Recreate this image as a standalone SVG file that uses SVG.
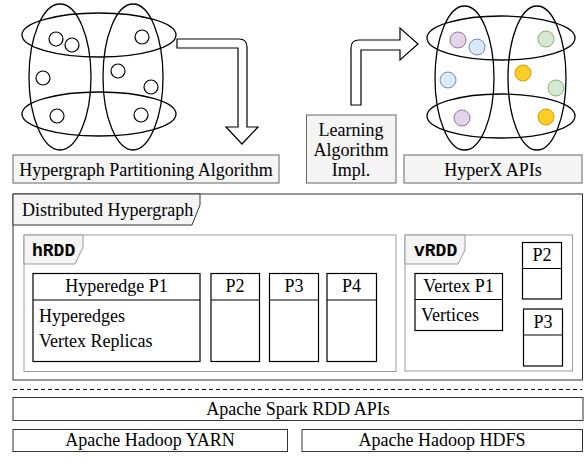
<svg xmlns="http://www.w3.org/2000/svg" width="587" height="462" viewBox="0 0 587 462">
<style>
text{font-family:"Liberation Serif","Times New Roman",serif;font-size:18px;fill:#000}
.c{text-anchor:middle}
.mono{font-family:"Liberation Mono","Courier New",monospace;font-weight:bold;font-size:18px}
.e{fill:none;stroke:#000;stroke-width:1.3}
.v{fill:#fff;stroke:#000;stroke-width:1.2}
.gb{fill:#f5f5f5;stroke:#666;stroke-width:1}
.frame{fill:#fff;stroke:#333;stroke-width:1}
.sub{fill:#fff;stroke:#999;stroke-width:1}
.tab{fill:#f5f5f5;stroke:#999;stroke-width:1}
.tabd{fill:#f5f5f5;stroke:#333;stroke-width:1}
.pb{fill:#fff;stroke:#000;stroke-width:1.2}
.ln{stroke:#000;stroke-width:1.2}
.arr{fill:#fff;stroke:#000;stroke-width:1.2;stroke-linejoin:miter}
.pu{fill:#e1d5e7;stroke:#9673a6;stroke-width:1}
.bl{fill:#dae8fc;stroke:#6c8ebf;stroke-width:1}
.gr{fill:#d5e8d4;stroke:#82b366;stroke-width:1}
.ye{fill:#ffcd28;stroke:#d79b00;stroke-width:1}
.base{fill:#fff;stroke:#333;stroke-width:1}
</style>

<g id="hypergraph-left">
  <ellipse class="e" cx="60" cy="77" rx="31" ry="73"/>
  <ellipse class="e" cx="133" cy="77" rx="30" ry="73"/>
  <ellipse class="e" cx="99" cy="35" rx="77" ry="22"/>
  <ellipse class="e" cx="99" cy="114" rx="77" ry="22"/>
  <circle class="v" cx="56" cy="39" r="7"/>
  <circle class="v" cx="72" cy="45" r="7"/>
  <circle class="v" cx="142" cy="37" r="7"/>
  <circle class="v" cx="43" cy="78" r="7"/>
  <circle class="v" cx="118" cy="71" r="7"/>
  <circle class="v" cx="151" cy="87" r="7"/>
  <circle class="v" cx="57" cy="116" r="7"/>
  <circle class="v" cx="141" cy="115" r="7"/>
</g>

<g id="hypergraph-right">
  <ellipse class="e" cx="464.5" cy="78" rx="29.5" ry="72"/>
  <ellipse class="e" cx="537" cy="78" rx="29" ry="72"/>
  <ellipse class="e" cx="501" cy="38" rx="74" ry="22"/>
  <ellipse class="e" cx="501" cy="116" rx="74" ry="22"/>
  <circle class="pu" cx="458" cy="40" r="8"/>
  <circle class="bl" cx="477" cy="47" r="8"/>
  <circle class="gr" cx="546" cy="39" r="8"/>
  <circle class="bl" cx="448" cy="80" r="8"/>
  <circle class="ye" cx="523" cy="73" r="8"/>
  <circle class="gr" cx="556" cy="88" r="8"/>
  <circle class="pu" cx="462" cy="118" r="8"/>
  <circle class="ye" cx="546" cy="117" r="8"/>
</g>

<g id="connectors">
  <path class="arr" d="M177,39 H239 Q247,39 247,47 V127 H258 L242,144 L226,127 H238 V48 H177 Z"/>
  <path class="arr" d="M351,105 V48 Q351,40 359,40 H400 V28 L418,44 L400,60 V50 H361 V105 Z"/>
  <line x1="13" y1="389.5" x2="582" y2="389.5" stroke="#000" stroke-width="1" stroke-dasharray="4,3"/>
</g>

<g id="partitioning">
  <rect class="gb" x="13" y="155" width="266" height="28"/>
  <text class="c" x="146" y="176">Hypergraph Partitioning Algorithm</text>
</g>

<g id="learning">
  <rect class="gb" x="306.5" y="115" width="89.5" height="68"/>
  <text class="c" x="351" y="136">Learning</text>
  <text class="c" x="351" y="156">Algorithm</text>
  <text class="c" x="351" y="176">Impl.</text>
</g>

<g id="hyperx-apis">
  <rect class="gb" x="404" y="155" width="178" height="28"/>
  <text class="c" x="493" y="176">HyperX APIs</text>
</g>

<g id="distributed-hypergraph">
  <rect class="frame" x="13" y="194" width="569.5" height="186"/>
  <path class="tabd" d="M13,194 H200 V205 L192,225 H13 Z"/>
  <text x="22" y="216">Distributed Hypergraph</text>
</g>

<g id="hrdd">
  <rect class="sub" x="24" y="235" width="372" height="136.5"/>
  <path class="tab" d="M24,235 H83 V247 L75,264 H24 Z"/>
  <text class="mono" x="32" y="256">hRDD</text>
</g>

<g id="hyperedge-p1">
  <rect class="pb" x="33" y="273.5" width="167" height="88"/>
  <line class="ln" x1="33" y1="300" x2="200" y2="300"/>
  <text class="c" x="116.5" y="292">Hyperedge P1</text>
  <text x="39" y="322">Hyperedges</text>
  <text x="39" y="347">Vertex Replicas</text>
</g>

<g id="h-p2">
  <rect class="pb" x="211" y="273.5" width="48.5" height="88"/>
  <line class="ln" x1="211" y1="300" x2="259.5" y2="300"/>
  <text class="c" x="235" y="292">P2</text>
</g>
<g id="h-p3">
  <rect class="pb" x="269.5" y="273.5" width="49" height="88"/>
  <line class="ln" x1="269.5" y1="300" x2="318.5" y2="300"/>
  <text class="c" x="294" y="292">P3</text>
</g>
<g id="h-p4">
  <rect class="pb" x="327" y="273.5" width="49.5" height="88"/>
  <line class="ln" x1="327" y1="300" x2="376.5" y2="300"/>
  <text class="c" x="351.5" y="292">P4</text>
</g>

<g id="vrdd">
  <rect class="sub" x="405" y="235" width="167.5" height="136"/>
  <path class="tab" d="M405,235 H465 V250 L458,264 H405 Z"/>
  <text class="mono" x="414" y="256">vRDD</text>
</g>

<g id="vertex-p1">
  <rect class="pb" x="415" y="273.5" width="87.5" height="57"/>
  <line class="ln" x1="415" y1="299.5" x2="502.5" y2="299.5"/>
  <text class="c" x="458.5" y="292">Vertex P1</text>
  <text x="421" y="321">Vertices</text>
</g>

<g id="v-p2">
  <rect class="pb" x="522.5" y="242.5" width="39" height="56.5"/>
  <line class="ln" x1="522.5" y1="268.5" x2="561.5" y2="268.5"/>
  <text class="c" x="542" y="261">P2</text>
</g>
<g id="v-p3">
  <rect class="pb" x="523.5" y="309" width="39" height="57"/>
  <line class="ln" x1="523.5" y1="335" x2="562.5" y2="335"/>
  <text class="c" x="543" y="328">P3</text>
</g>

<g id="spark">
  <rect class="base" x="13" y="397.5" width="570" height="23"/>
  <text class="c" x="298" y="415">Apache Spark RDD APIs</text>
</g>
<g id="yarn">
  <rect class="base" x="13" y="429.5" width="274.5" height="22"/>
  <text class="c" x="150" y="446">Apache Hadoop YARN</text>
</g>
<g id="hdfs">
  <rect class="base" x="302" y="429.5" width="280.5" height="22"/>
  <text class="c" x="442" y="446">Apache Hadoop HDFS</text>
</g>
</svg>
